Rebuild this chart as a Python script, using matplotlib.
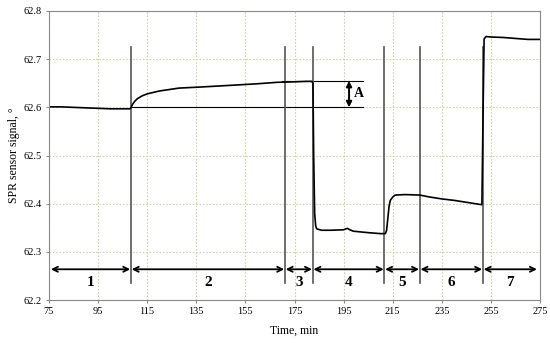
import matplotlib
matplotlib.use("Agg")
import matplotlib.pyplot as plt

plt.rcParams['font.family'] = ['Liberation Serif', 'DejaVu Serif']

# SPR signal (time in min, signal in degrees)
time = [75, 80, 85, 90, 95, 100, 105, 108, 108.5, 109, 110, 111, 113, 115, 120, 128,
        136, 150, 160, 168, 175, 180, 182, 182.5, 182.8, 183.2, 183.6, 184, 186, 190,
        195, 196.5, 197.5, 199, 205, 210, 212, 212.5, 213, 213.5, 214, 215, 216, 220,
        226, 230, 235, 240, 245, 250, 251.3, 251.8, 252.2, 253, 255, 260, 265, 270, 275]
signal = [62.601, 62.601, 62.600, 62.599, 62.598, 62.597, 62.597, 62.597, 62.600, 62.606,
          62.613, 62.618, 62.624, 62.628, 62.634, 62.640, 62.642, 62.646, 62.649, 62.652,
          62.653, 62.654, 62.654, 62.650, 62.500, 62.380, 62.355, 62.348, 62.345, 62.345,
          62.346, 62.349, 62.346, 62.343, 62.340, 62.338, 62.338, 62.345, 62.370, 62.395,
          62.407, 62.414, 62.418, 62.419, 62.418, 62.414, 62.410, 62.407, 62.403, 62.399,
          62.398, 62.600, 62.742, 62.747, 62.746, 62.745, 62.743, 62.741, 62.741]

# stage boundaries and labels
bounds = [75.5, 108.4, 171.1, 182.4, 211.6, 226.0, 251.7, 274.0]
stages = ["1", "2", "3", "4", "5", "6", "7"]

level_low = 62.600
level_high = 62.655

fig = plt.figure(figsize=(5.5, 3.43), dpi=100)
ax = fig.add_axes([0.089, 0.125, 0.893, 0.843])

ax.set_xlim(75, 275)
ax.set_ylim(62.2, 62.8)
ax.set_xticks(range(75, 276, 20))
ax.set_yticks([62.2, 62.3, 62.4, 62.5, 62.6, 62.7, 62.8])
ax.set_yticklabels([f"{v:.1f}" for v in ax.get_yticks()])
ax.grid(True, color='#d2d2a0', linestyle=(0, (1.5, 1.5)), linewidth=0.8)
for s in ax.spines.values():
    s.set_color('#8a8a8a')
ax.tick_params(labelsize=7.5, length=2, color='#8a8a8a', pad=3)

ax.set_xlabel("Time, min", fontsize=8.5, labelpad=6)
ax.set_ylabel("SPR sensor signal, °", fontsize=8.5, labelpad=3)

# reference levels and amplitude A
ax.plot([bounds[1], 203], [level_low, level_low], color='black', lw=0.8)
ax.plot([bounds[2] - 1, 203], [level_high, level_high], color='black', lw=0.8)
ax.annotate("", xy=(197.2, level_low), xytext=(197.2, level_high),
            arrowprops=dict(arrowstyle='<|-|>', color='black', lw=1.4,
                            shrinkA=0, shrinkB=0, mutation_scale=8))
ax.text(199.3, 62.628, "A", fontsize=10, fontweight='bold', va='center', ha='left')

# stage dividers
for b in bounds[1:-1]:
    ax.plot([b, b], [62.235, 62.725], color='#555555', lw=1.2)

# stage arrows and numbers
for i, name in enumerate(stages):
    a, b = bounds[i], bounds[i + 1]
    ax.annotate("", xy=(b - 0.3, 62.264), xytext=(a + 0.3, 62.264),
                arrowprops=dict(arrowstyle='<->', color='black', lw=1.3,
                                shrinkA=0, shrinkB=0, mutation_scale=9))
    ax.text((a + b) / 2, 62.236, name, fontsize=11, fontweight='bold',
            ha='center', va='center')

ax.plot(time, signal, color='black', lw=1.2)

fig.savefig("out.png", dpi=100)
